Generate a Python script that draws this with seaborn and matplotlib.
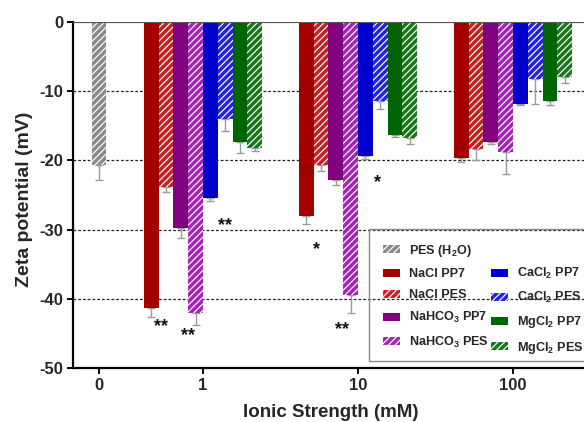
import numpy as np
import pandas as pd
import matplotlib
matplotlib.use("Agg")
import matplotlib.pyplot as plt
import matplotlib.patches as mpatches
import seaborn as sns

# ---- data -------------------------------------------------------------
strengths = ["0", "1", "10", "100"]
salt_strengths = ["1", "10", "100"]

series = ["NaCl PP7", "NaCl PES", "NaHCO3 PP7", "NaHCO3 PES",
          "CaCl2 PP7", "CaCl2 PES", "MgCl2 PP7", "MgCl2 PES"]
series_labels = ["NaCl PP7", "NaCl PES", "NaHCO$_3$ PP7", "NaHCO$_3$ PES",
                 "CaCl$_2$ PP7", "CaCl$_2$ PES", "MgCl$_2$ PP7", "MgCl$_2$ PES"]

# zeta potential (mV) at 1, 10, 100 mM
nacl_pp7 = [-41.3, -28.1, -19.6]
nacl_pes = [-23.8, -20.7, -18.4]
nahco3_pp7 = [-29.7, -22.8, -17.4]
nahco3_pes = [-42.1, -39.5, -18.8]
cacl2_pp7 = [-25.4, -19.3, -11.8]
cacl2_pes = [-14.0, -11.4, -8.2]
mgcl2_pp7 = [-17.4, -16.3, -11.4]
mgcl2_pes = [-18.2, -16.7, -7.9]

# standard deviations
nacl_pp7_err = [1.3, 1.1, 0.7]
nacl_pes_err = [0.8, 0.8, 1.5]
nahco3_pp7_err = [1.5, 0.8, 0.2]
nahco3_pes_err = [1.7, 2.6, 3.1]
cacl2_pp7_err = [0.5, 0.5, 0.2]
cacl2_pes_err = [1.7, 1.2, 3.6]
mgcl2_pp7_err = [1.6, 0.3, 0.6]
mgcl2_pes_err = [0.4, 0.9, 0.9]

# membrane in pure water
pes_h2o = -20.7
pes_h2o_err = 2.2

# significance marks: (x position, y position, text)
sig_x = [-0.274, -0.097, 0.139, 0.735, 0.897, 1.123]
sig_y = [-44.0, -45.3, -29.4, -32.9, -44.4, -23.2]
sig_text = ["**", "**", "**", "*", "**", "*"]

y_ticks = [0, -10, -20, -30, -40, -50]
y_tick_labels = ["0", "-10", "-20", "-30", "-40", "-50"]

# ---- style -------------------------------------------------------------
sns.set_theme(style="white")
plt.rcParams["font.family"] = ["Liberation Sans", "DejaVu Sans"]
plt.rcParams["font.weight"] = "bold"
plt.rcParams["mathtext.fontset"] = "custom"
plt.rcParams["mathtext.rm"] = "Liberation Sans:bold"
plt.rcParams["mathtext.it"] = "Liberation Sans:bold"
plt.rcParams["mathtext.bf"] = "Liberation Sans:bold"
plt.rcParams["mathtext.default"] = "rm"
plt.rcParams["hatch.linewidth"] = 0.85
plt.rcParams["hatch.color"] = "white"

HATCH = "/////"
colors = ["#A30000", "#C42222", "#800080", "#A424B4",
          "#0000CC", "#2424D8", "#006400", "#1A761A"]
hatched = [False, True, False, True, False, True, False, True]
gray = "#8A8A8A"
err_color = "#9A9A9A"

values = [nacl_pp7, nacl_pes, nahco3_pp7, nahco3_pes,
          cacl2_pp7, cacl2_pes, mgcl2_pp7, mgcl2_pes]
errors = [nacl_pp7_err, nacl_pes_err, nahco3_pp7_err, nahco3_pes_err,
          cacl2_pp7_err, cacl2_pes_err, mgcl2_pp7_err, mgcl2_pes_err]

rows = []
for s, vals, errs in zip(series, values, errors):
    for st, v, e in zip(salt_strengths, vals, errs):
        rows.append({"Strength": st, "Series": s, "Zeta": v, "Err": e})
df = pd.DataFrame(rows)
err_lookup = {(r.Series, r.Strength): r.Err for r in df.itertuples()}

fig = plt.figure(figsize=(5.84, 4.22), dpi=100)
ax = fig.add_axes([73 / 584, (422 - 368) / 422, 1 - 73 / 584, (368 - 22) / 422])

# dashed reference lines
for yv in [-10, -20, -30, -40]:
    ax.axhline(yv, color="#222222", lw=0.9, ls=(0, (2.2, 1.6)), zorder=0)

group_width = 0.765
sns.barplot(data=df, x="Strength", y="Zeta", hue="Series", order=salt_strengths,
            hue_order=series, palette=colors, width=group_width, gap=0,
            dodge=True, errorbar=None, saturation=1, linewidth=0,
            legend=False, ax=ax, zorder=2)

bar_containers = list(ax.containers)
for i, cont in enumerate(bar_containers):
    for p in cont:
        cx = p.get_x() + p.get_width() / 2
        h = p.get_height()
        if hatched[i]:
            p.set_hatch(HATCH)
            p.set_edgecolor("white")
            p.set_linewidth(0)
        cat = salt_strengths[int(round(cx))]
        e = err_lookup[(series[i], cat)]
        ax.errorbar(cx, h, yerr=[[e], [0]], fmt="none", ecolor=err_color,
                    elinewidth=1.0, capsize=3.2, capthick=1.0, zorder=1)

# PES in water at zero ionic strength, placed left of the salt groups
x_zero = -0.671
bw = group_width / len(series)
ax.bar(x_zero, pes_h2o, width=bw, color=gray, hatch=HATCH, edgecolor="white",
       linewidth=0, zorder=2)
ax.errorbar(x_zero, pes_h2o, yerr=[[pes_h2o_err], [0]], fmt="none",
            ecolor=err_color, elinewidth=1.0, capsize=3.2, capthick=1.0, zorder=1)

# zero line
ax.axhline(0, color="#555555", lw=1.6, zorder=3)

for x, y, t in zip(sig_x, sig_y, sig_text):
    ax.text(x, y, t, ha="center", va="center", fontsize=13, fontweight="bold",
            color="#111111", zorder=4)

ax.set_xlim(-0.839, 2.458)
ax.set_ylim(-50, 0)
ax.set_yticks(y_ticks)
ax.set_yticklabels(y_tick_labels)
ax.set_xticks([x_zero, 0, 1, 2])
ax.set_xticklabels(strengths)

for side in ["top", "right"]:
    ax.spines[side].set_visible(False)
for side in ["left", "bottom"]:
    ax.spines[side].set_color("black")
    ax.spines[side].set_linewidth(1.6)

ax.tick_params(axis="both", which="major", direction="out", length=4,
               width=1.4, color="black", labelsize=12, pad=3,
               left=True, bottom=True)
for lab in ax.get_xticklabels() + ax.get_yticklabels():
    lab.set_fontweight("bold")

ax.set_xlabel("Ionic Strength (mM)", fontsize=13.5, fontweight="bold")
ax.set_ylabel("Zeta potential (mV)", fontsize=14, fontweight="bold")
ax.xaxis.set_label_coords(0.505, -0.104)
ax.yaxis.set_label_coords(-0.078, 0.488)

# legend box (open to the right) and entries
box_left, box_top, box_bottom = 369 / 584, 1 - 229 / 422, 1 - 361 / 422
fig.add_artist(mpatches.Rectangle((box_left, box_bottom), 1.1 - box_left,
                                  box_top - box_bottom, transform=fig.transFigure,
                                  facecolor="none", edgecolor="#8A8A8A",
                                  linewidth=1.0, zorder=5))

handles = [mpatches.Patch(facecolor=gray, hatch=HATCH, edgecolor="white", linewidth=0)]
labels = ["PES (H$_2$O)"]
for i in range(4):
    handles.append(mpatches.Patch(facecolor=colors[i],
                                  hatch=HATCH if hatched[i] else None,
                                  edgecolor="white", linewidth=0))
    labels.append(series_labels[i])
handles.append(mpatches.Patch(facecolor="none", edgecolor="none", linewidth=0))
labels.append("")
for i in range(4, 8):
    handles.append(mpatches.Patch(facecolor=colors[i],
                                  hatch=HATCH if hatched[i] else None,
                                  edgecolor="white", linewidth=0))
    labels.append(series_labels[i])

leg = fig.legend(handles, labels, ncol=2, loc="upper left",
                 bbox_to_anchor=(box_left, box_top),
                 bbox_transform=fig.transFigure, borderaxespad=0,
                 prop={"size": 9.1, "weight": "bold"},
                 frameon=False, borderpad=1.1, labelspacing=0.72,
                 handlelength=1.38, handleheight=0.6, handletextpad=0.72,
                 columnspacing=0.1)

fig.savefig("out.png", dpi=100)
